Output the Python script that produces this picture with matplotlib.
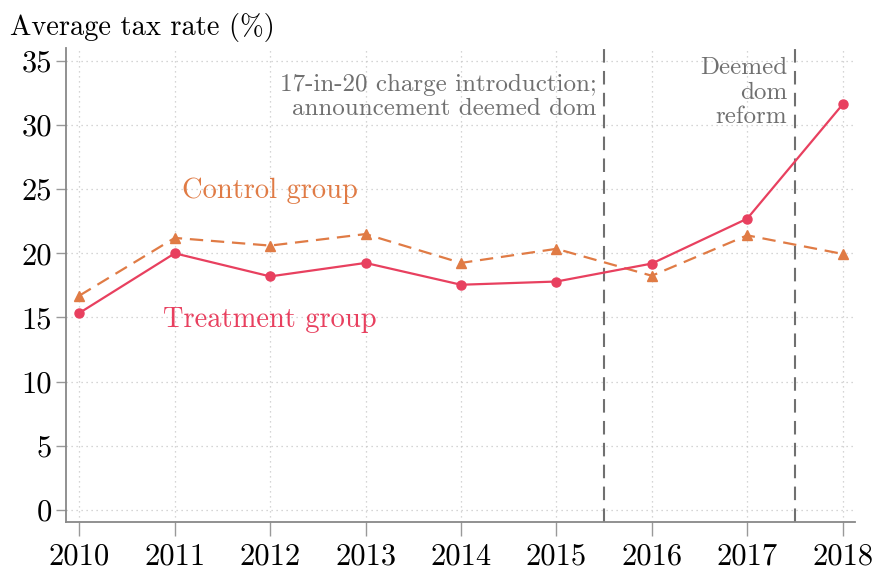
import matplotlib as mpl
mpl.use('Agg')
import matplotlib.pyplot as plt

plt.rcParams['font.family'] = ['cmr10', 'DejaVu Serif']
plt.rcParams['axes.formatter.use_mathtext'] = True
plt.rcParams['mathtext.fontset'] = 'cm'

years     = [2010, 2011, 2012, 2013, 2014, 2015, 2016, 2017, 2018]
treatment = [15.35, 20.0, 18.2, 19.25, 17.55, 17.8, 19.2, 22.7, 31.6]
control   = [16.7, 21.2, 20.6, 21.5, 19.25, 20.35, 18.25, 21.4, 19.95]
yticks    = [0, 5, 10, 15, 20, 25, 30, 35]
reforms   = [2015.5, 2017.5]

red    = '#e8405f'
orange = '#e07b45'
grey   = '#707070'

fig = plt.figure(figsize=(8.74, 5.73), dpi=100)
ax  = fig.add_axes([66/874, 1 - 522/573, (855-66)/874, (522-48)/573])

ax.plot(years, control, color=orange, linestyle=(0, (6, 3.5)), linewidth=1.6,
        marker='^', markersize=7, zorder=3)
ax.plot(years, treatment, color=red, linestyle='-', linewidth=1.6,
        marker='o', markersize=6.5, zorder=4)

for xv in reforms:
    ax.axvline(xv, color=grey, linestyle=(0, (6.5, 4)), linewidth=1.5, zorder=2)

ax.text(2015.42, 34.0, "17-in-20 charge introduction;\nannouncement deemed dom",
        ha='right', va='top', color=grey, fontsize=18, linespacing=1.15)
ax.text(2017.42, 35.3, "Deemed\ndom\nreform",
        ha='right', va='top', color=grey, fontsize=18, linespacing=1.15)

ax.text(2012, 24.85, "Control group", ha='center', va='center', color=orange, fontsize=20.5)
ax.text(2012, 14.8, "Treatment group", ha='center', va='center', color=red, fontsize=20.5)

fig.text(10/874, 1 - 28/573, "Average tax rate (%)", ha='left', va='center', fontsize=20.5)

ax.set_xlim(2009.86, 2018.13)
ax.set_ylim(-0.94, 36.0)
ax.set_xticks(years)
ax.set_yticks(yticks)
ax.set_xticklabels([str(y) for y in years])
ax.set_yticklabels([str(y) for y in yticks])

ax.grid(True, color='#c8c8c8', linestyle=(0, (1, 3)), linewidth=0.9)
ax.set_axisbelow(True)

for side in ['top', 'right']:
    ax.spines[side].set_visible(False)
for side in ['left', 'bottom']:
    ax.spines[side].set_color('#888888')
    ax.spines[side].set_linewidth(1.3)

ax.tick_params(axis='x', direction='out', length=10, width=1, color='#999999',
               labelsize=22, pad=5)
ax.tick_params(axis='y', direction='out', length=7, width=1, color='#999999',
               labelsize=22, pad=3)

fig.savefig('out.png', dpi=100)
